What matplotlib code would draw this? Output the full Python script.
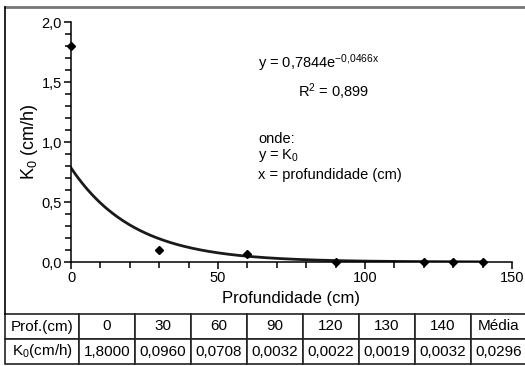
import numpy as np
import matplotlib
matplotlib.use("Agg")
import matplotlib.pyplot as plt
from matplotlib.ticker import MultipleLocator, FuncFormatter
from matplotlib.lines import Line2D

plt.rcParams['font.family'] = ['Liberation Sans', 'DejaVu Sans']
plt.rcParams['mathtext.fontset'] = 'custom'
plt.rcParams['mathtext.rm'] = 'Liberation Sans'
plt.rcParams['mathtext.it'] = 'Liberation Sans'
plt.rcParams['mathtext.default'] = 'regular'

# Data
depth = [0, 30, 60, 90, 120, 130, 140]
k0 = [1.8000, 0.0960, 0.0708, 0.0032, 0.0022, 0.0019, 0.0032]
fit_a = 0.7844
fit_b = -0.0466
r2 = 0.899
table_header = ['Prof.(cm)', '0', '30', '60', '90', '120', '130', '140', 'Média']
table_values = ['K$_0$(cm/h)', '1,8000', '0,0960', '0,0708', '0,0032', '0,0022', '0,0019', '0,0032', '0,0296']

W, H = 525, 366
fig = plt.figure(figsize=(W / 100, H / 100), dpi=100)

def fx(px):
    return px / W

def fy(py):
    return 1 - py / H

ax = fig.add_axes([fx(71), fy(262), fx(512) - fx(71), fy(22) - fy(262)])
xfit = np.linspace(0, 140, 300)
ax.plot(xfit, fit_a * np.exp(fit_b * xfit), color='#1a1a1a', lw=2.0, zorder=2)
ax.plot(depth, k0, 'D', color='black', ms=4, clip_on=False, zorder=3)

ax.set_xlim(0, 150)
ax.set_ylim(0, 2.0)
for s in ['top', 'right']:
    ax.spines[s].set_visible(False)
ax.spines['left'].set_linewidth(1.1)
ax.spines['bottom'].set_linewidth(1.1)
ax.xaxis.set_major_locator(MultipleLocator(50))
ax.xaxis.set_minor_locator(MultipleLocator(10))
ax.yaxis.set_major_locator(MultipleLocator(0.5))
ax.yaxis.set_minor_locator(MultipleLocator(0.1))
ax.yaxis.set_major_formatter(FuncFormatter(lambda v, p: f"{v:.1f}".replace('.', ',')))
ax.tick_params(axis='both', which='major', length=5, width=1.1, labelsize=10.5, pad=1.5)
ax.tick_params(axis='both', which='minor', length=4, width=1.1)
ax.set_xlabel('Profundidade (cm)', fontsize=12, labelpad=4)
ax.set_ylabel('K$_0$ (cm/h)', fontsize=13, labelpad=1)

a_str = f"{fit_a:.4f}".replace('.', ',')
b_str = f"{fit_b:.4f}".replace('.', '{,}')
tkw = dict(transform=fig.transFigure, fontsize=10.5, va='center', ha='left')
fig.text(fx(258), fy(63), 'y = ' + a_str + 'e$^{' + b_str + 'x}$', **tkw)
fig.text(fx(298), fy(92), 'R$^2$ = ' + f"{r2:.3f}".replace('.', ','), **tkw)
fig.text(fx(258), fy(139), 'onde:', **tkw)
fig.text(fx(258), fy(156), 'y = K$_0$', **tkw)
fig.text(fx(258), fy(175), 'x = profundidade (cm)', **tkw)

# Frame
fig.add_artist(Line2D([fx(5), fx(530)], [fy(7), fy(7)], transform=fig.transFigure, color='#777777', lw=2))
fig.add_artist(Line2D([fx(5), fx(5)], [fy(7), fy(314)], transform=fig.transFigure, color='black', lw=1.2))

# Table
tax = fig.add_axes([fx(5), fy(364), fx(527) - fx(5), fy(314) - fy(364)])
tax.axis('off')
widths = [74] + [56] * 8
tot = sum(widths)
tbl = tax.table(cellText=[table_header, table_values], colWidths=[w / tot for w in widths],
                cellLoc='center', bbox=[0, 0, 1, 1])
tbl.auto_set_font_size(False)
for (r, c), cell in tbl.get_celld().items():
    cell.set_fontsize(11)
    cell.set_linewidth(1.2)
    cell.set_edgecolor('#222222')
    cell.PAD = 0.02

fig.savefig('out.png', dpi=100)
